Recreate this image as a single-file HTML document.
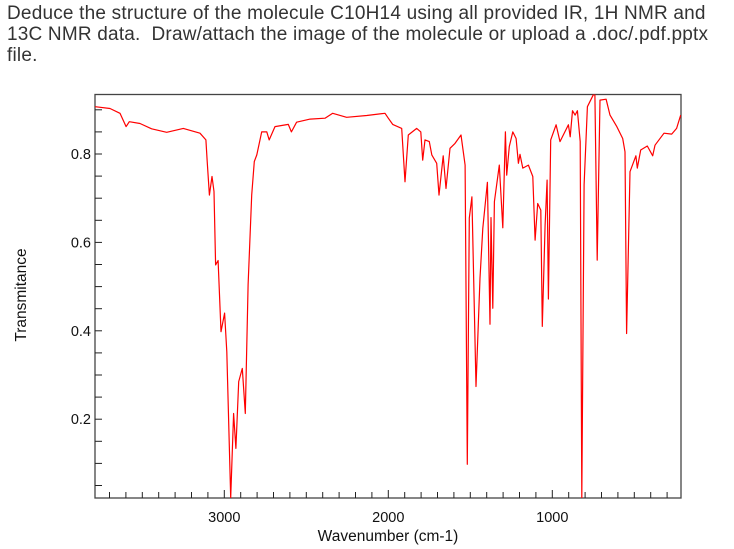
<!DOCTYPE html>
<html><head><meta charset="utf-8"><style>
body{margin:0;background:#fff;width:734px;height:549px;overflow:hidden;font-family:"Liberation Sans",sans-serif}
.q{position:absolute;left:7px;top:3px;font-size:19px;letter-spacing:0.2px;line-height:21px;color:#333;white-space:nowrap}
</style></head><body>
<div class="q">Deduce the structure of the molecule C10H14 using all provided IR, 1H NMR and<br>13C NMR data.&nbsp; Draw/attach the image of the molecule or upload a .doc/.pdf.pptx<br>file.</div>
<svg id="c" width="734" height="549" style="position:absolute;left:0;top:0"></svg>
<script>
const wavenumbers=[3788,3697,3636,3599,3579,3514,3443,3351,3250,3148,3112,3104,3091,3075,3063,3053,3038,3020,2998,2985,2961,2943,2929,2912,2890,2872,2855,2833,2817,2802,2772,2741,2726,2691,2610,2591,2559,2477,2386,2339,2254,2132,2020,2000,1973,1918,1898,1878,1827,1802,1790,1776,1750,1735,1705,1691,1665,1648,1624,1593,1557,1532,1518,1506,1490,1465,1441,1424,1396,1380,1374,1363,1353,1323,1302,1286,1278,1262,1241,1221,1207,1197,1180,1146,1119,1105,1089,1070,1061,1044,1032,1024,1010,977,953,902,891,877,861,847,830,820,806,786,750,740,726,709,672,648,607,571,557,547,526,490,482,461,421,388,374,319,272,242,217];
const transmittance=[0.907,0.903,0.892,0.862,0.873,0.869,0.857,0.849,0.858,0.847,0.832,0.783,0.707,0.749,0.715,0.549,0.559,0.398,0.440,0.353,0.022,0.213,0.134,0.285,0.315,0.213,0.504,0.707,0.783,0.798,0.850,0.850,0.832,0.862,0.867,0.850,0.872,0.879,0.881,0.892,0.883,0.887,0.892,0.881,0.867,0.858,0.737,0.843,0.858,0.850,0.786,0.832,0.828,0.798,0.779,0.707,0.796,0.722,0.813,0.824,0.843,0.775,0.098,0.655,0.703,0.274,0.519,0.632,0.736,0.415,0.656,0.451,0.692,0.775,0.633,0.850,0.752,0.817,0.850,0.835,0.779,0.799,0.768,0.775,0.749,0.605,0.688,0.673,0.410,0.639,0.741,0.472,0.832,0.866,0.828,0.866,0.839,0.898,0.888,0.898,0.828,0.022,0.730,0.907,0.934,0.934,0.560,0.922,0.924,0.888,0.862,0.835,0.805,0.394,0.760,0.796,0.768,0.809,0.818,0.796,0.820,0.847,0.845,0.858,0.888];
const yTicks=[0.2,0.4,0.6,0.8];
const xTicks=[3000,2000,1000];
const NS='http://www.w3.org/2000/svg';
const svg=document.getElementById('c');
const L=95,R=681,T=94.5,B=498;
const X=w=>224.3+(3000-w)*0.164;
const Y=v=>154+(0.8-v)*442;
function mk(t,a,p){const e=document.createElementNS(NS,t);for(const k in a)e.setAttribute(k,a[k]);(p||svg).appendChild(e);return e;}
const clip=mk('clipPath',{id:'cl'});mk('rect',{x:L,y:T,width:R-L,height:B-T},clip);
const frame=mk('rect',{x:L,y:T,width:R-L,height:B-T,fill:'none',stroke:'#444','stroke-width':1.3});


for(let v=0.05;v<0.93;v+=0.05){const t=mk('line',{x1:L,x2:L+7,y1:Y(v),y2:Y(v),stroke:'#222','stroke-width':1});

}
yTicks.forEach(v=>{const t=mk('text',{x:L-4,y:Y(v)+5,'text-anchor':'end','font-size':14.5,fill:'#111'});t.textContent=v.toFixed(1);

});
for(let w=3700;w>=300;w-=100){const big=w%1000===0;const t=mk('line',{x1:X(w),x2:X(w),y1:B,y2:B-(big?8:6),stroke:'#222','stroke-width':1});

}
xTicks.forEach(w=>{const t=mk('text',{x:X(w),y:B+24,'text-anchor':'middle','font-size':14.5,fill:'#111'});t.textContent=w;

});
const d=wavenumbers.map((w,i)=>(i?'L':'M')+X(w).toFixed(1)+','+Y(transmittance[i]).toFixed(1)).join('');
const p=mk('path',{d:d,fill:'none',stroke:'#ff0000','stroke-width':1.2,'clip-path':'url(#cl)','stroke-linejoin':'round'});


const xl=mk('text',{x:388,y:541,'text-anchor':'middle','font-size':15.5,fill:'#111'});xl.textContent='Wavenumber (cm-1)';


const yl=mk('text',{x:0,y:0,'text-anchor':'middle','font-size':15.5,fill:'#111',transform:'translate(26,295) rotate(-90)'});yl.textContent='Transmitance';


</script>
</body></html>
